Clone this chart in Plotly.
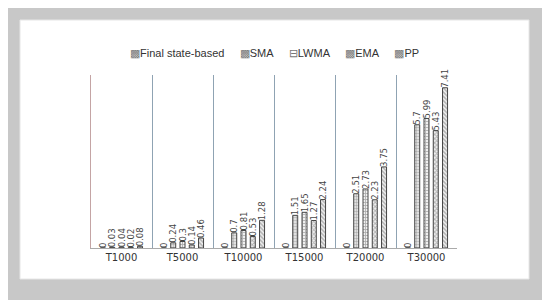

import plotly.graph_objects as go

#
# DATA
#

categories = ["T1000", "T5000", "T10000", "T15000", "T20000", "T30000"]

final_state = [0, 0, 0, 0, 0, 0]
sma = [0.03, 0.24, 0.7, 1.51, 2.51, 5.7]
lwma = [0.04, 0.3, 0.81, 1.65, 2.73, 5.99]
ema = [0.02, 0.14, 0.53, 1.27, 2.23, 5.43]
pp = [0.08, 0.46, 1.28, 2.24, 3.75, 7.41]

# name, values, bar pattern, legend glyph
series = [
    ("Final state-based", final_state, ".", "\u25a9"),
    ("SMA", sma, ".", "\u25a9"),
    ("LWMA", lwma, "+", "\u229f"),
    ("EMA", ema, "x", "\u25a9"),
    ("PP", pp, "\\", "\u25a9"),
]

#
# CHART
#

fig = go.Figure()

for name, values, shape, glyph in series:
    fig.add_trace(go.Bar(
        x=categories,
        y=values,
        name=name,
        text=[str(v) for v in values],
        textposition="outside",
        textangle=-90,
        constraintext="none",
        cliponaxis=False,
        textfont=dict(size=8.5, color="#444444", family="DejaVu Sans"),
        marker=dict(
            color="white",
            line=dict(color="#444444", width=1),
            pattern=dict(shape=shape, fgcolor="#707070", bgcolor="#f0f0f0", size=3, solidity=0.5),
        ),
    ))

# legend drawn as one line of text, like the original
gap = "\u00a0" * 5
legend_text = gap.join(
    '<span style="color:#777777">' + glyph + "</span>" + name for name, values, shape, glyph in series
)

# page has an 8px body margin, so everything is laid out 8px up/left
fig.update_layout(
    width=550,
    height=300,
    barmode="group",
    bargap=0.24,
    bargroupgap=0.46,
    paper_bgcolor="#c8c8c8",
    plot_bgcolor="rgba(0,0,0,0)",
    margin=dict(l=83, r=101, t=67, b=60),
    font=dict(family="DejaVu Sans", color="#333333"),
    showlegend=False,
    annotations=[dict(
        text=legend_text, xref="paper", yref="paper",
        x=0.5, xanchor="center", y=1 + 22 / 173, yanchor="middle",
        showarrow=False, font=dict(size=11, family="Liberation Sans", color="#333333"),
    )],
    # white card behind the chart
    shapes=[dict(
        type="rect", xref="paper", yref="paper", layer="below",
        x0=-71 / 366, x1=1 + 72 / 366, y0=-31 / 173, y1=228 / 173,
        fillcolor="white", line=dict(color="#e6e6e6", width=1),
    )],
    yaxis2=dict(
        overlaying="y", side="right", range=[0, 8],
        showline=True, linecolor="#9aaab8", linewidth=1,
        showgrid=False, showticklabels=False, zeroline=False, ticks="",
    ),
)

fig.update_xaxes(
    tickson="boundaries",
    showgrid=True,
    gridcolor="#8fa3b3",
    gridwidth=1,
    showline=True,
    linecolor="#aaaaaa",
    ticks="",
    tickfont=dict(size=10, color="#333333"),
)

fig.update_yaxes(
    selector=dict(overlaying=None),
    range=[0, 8],
    showgrid=False,
    showticklabels=False,
    zeroline=False,
    showline=True,
    linecolor="#c4a4a4",
    linewidth=1,
)

fig.write_html("out.html")
